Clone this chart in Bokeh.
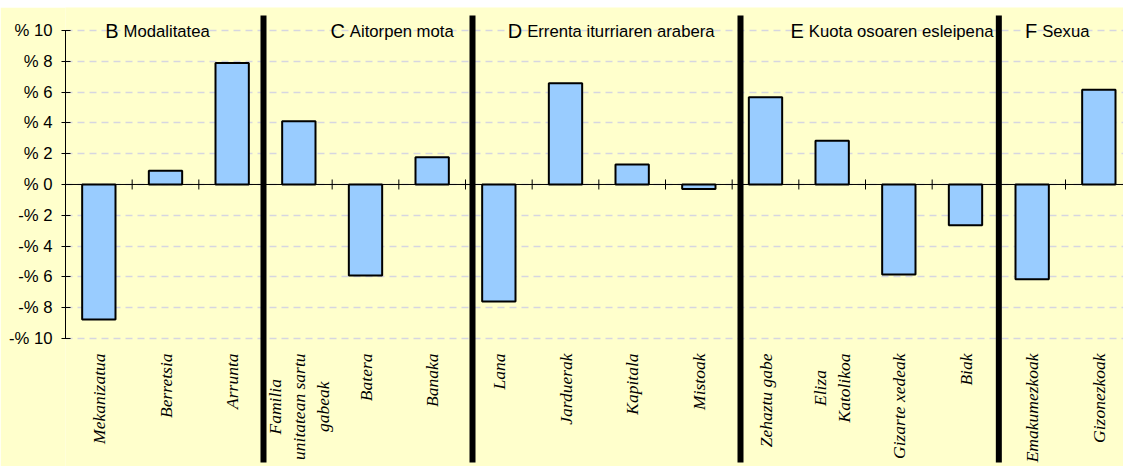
import numpy as np
from bokeh.plotting import figure
from bokeh.layouts import column
from bokeh.models import Range1d, FixedTicker, Span, Spacer
from bokeh.core.properties import value
from bokeh.embed import file_html
from bokeh.resources import INLINE

# ---- data ----
categories = ["Mekanizatua", "Berretsia", "Arrunta",
              "Familia\nunitatean sartu\ngabeak", "Batera", "Banaka",
              "Lana", "Jarduerak", "Kapitala", "Mistoak",
              "Zehaztu gabe", "Eliza\nKatolikoa", "Gizarte xedeak", "Biak",
              "Emakumezkoak", "Gizonezkoak"]
values = [-8.77, 0.89, 7.88,
          4.11, -5.91, 1.77,
          -7.60, 6.58, 1.30, -0.30,
          5.67, 2.84, -5.84, -2.64,
          -6.15, 6.15]
group_letters = ["B", "C", "D", "E", "F"]
group_names = ["Modalitatea", "Aitorpen mota", "Errenta iturriaren arabera",
               "Kuota osoaren esleipena", "Sexua"]
y_ticks = [-10, -8, -6, -4, -2, 0, 2, 4, 6, 8, 10]
y_tick_labels = ["-% 10", "-% 8", "-% 6", "-% 4", "-% 2", "% 0",
                 "% 2", "% 4", "% 6", "% 8", "% 10"]

# ---- layout (positions in category units) ----
header_x = [0.87, 4.265, 6.925, 11.15, 14.65]
separator_x = [2.97, 6.105, 10.125, 14.0]
separator_top = 10.97
separator_bottom = -18.05
LABEL_SIZE = 17.5

# approximate Times-Italic advance widths (1/1000 em) to centre multi-line labels
TIMES_I = dict(zip("abcdefghijklmnopqrstuvwxyz",
                   [500, 500, 444, 500, 444, 278, 500, 500, 278, 278, 444, 278, 722,
                    500, 500, 500, 500, 389, 389, 278, 500, 444, 667, 444, 444, 389]))
TIMES_I.update(dict(zip("ABCDEFGHIJKLMNOPQRSTUVWXYZ",
                        [611, 611, 667, 722, 611, 611, 722, 722, 333, 444, 667, 556, 833,
                         667, 722, 611, 722, 611, 500, 556, 722, 611, 833, 611, 556, 556])))
TIMES_I[" "] = 250


def est_width(s, size):
    return size * sum(TIMES_I.get(c, 500) for c in s) / 1000.0


n = len(categories)
xs = np.arange(n) + 0.5
bounds = np.arange(1, n)

BG = "#FFFFCC"
p = figure(width=1123, height=459,
           x_range=Range1d(0, 15.87), y_range=Range1d(-18.31, 11.49),
           x_axis_location=None,
           output_backend="svg", toolbar_location=None,
           background_fill_color=BG, border_fill_color=BG,
           min_border_left=65, min_border_right=0,
           min_border_top=0, min_border_bottom=0)
p.outline_line_color = None
p.xgrid.visible = False

# y grid
p.ygrid.ticker = FixedTicker(ticks=y_ticks)
p.ygrid.grid_line_color = "#D6D6E0"
p.ygrid.grid_line_dash = "7 5"
p.ygrid.grid_line_width = 1.5

# y axis
ax = p.yaxis[0]
ax.ticker = FixedTicker(ticks=y_ticks)
ax.bounds = (-10, 10)
ax.major_label_overrides = {t: l for t, l in zip(y_ticks, y_tick_labels)}
ax.minor_tick_line_color = None
ax.major_tick_out = 4
ax.major_tick_in = 5
ax.axis_line_color = "black"
ax.major_tick_line_color = "black"
ax.major_label_standoff = 9
ax.major_label_text_font = "Liberation Sans"
ax.major_label_text_font_size = "16.7px"
ax.major_label_text_color = "black"

# bars
p.vbar(x=xs, top=values, bottom=0, width=0.5,
       fill_color="#99CCFF", line_color="black", line_width=2)

# zero line + category ticks
p.add_layout(Span(location=0, dimension="width", line_color="black", line_width=1))
p.scatter(x=bounds, y=np.zeros(len(bounds)), marker="dash", angle=np.pi / 2,
          size=10, line_color="black", line_width=1)

# separators
p.segment(x0=separator_x, x1=separator_x,
          y0=[separator_bottom] * len(separator_x), y1=[separator_top] * len(separator_x),
          line_color="black", line_width=6)

# category labels: single-line ones anchored at their top end
single = [i for i, c in enumerate(categories) if "\n" not in c]
multi = [i for i, c in enumerate(categories) if "\n" in c]
p.text(x=xs[single], y=[-10] * len(single), text=[categories[i] for i in single],
       angle=np.pi / 2, anchor="center_right", y_offset=15,
       text_font=value("Liberation Serif"), text_font_style="italic",
       text_font_size=f"{LABEL_SIZE}px", text_color="black")
# multi-line ones: centred lines, block top aligned with the others
multi_off = [15 + max(est_width(l, LABEL_SIZE) for l in categories[i].split("\n")) / 2
             for i in multi]
p.text(x=xs[multi], y=[-10] * len(multi), text=[categories[i] for i in multi],
       angle=np.pi / 2, text_align="center", text_baseline="middle", y_offset=multi_off,
       text_font=value("Liberation Serif"), text_font_style="italic",
       text_font_size=f"{LABEL_SIZE}px", text_color="black", text_line_height=1.2)

# headers
p.text(x=header_x, y=[10] * len(header_x), text=group_letters,
       text_align="right", text_baseline="middle", x_offset=-5, y_offset=1,
       text_font=value("Liberation Sans"), text_font_size="20px", text_color="black")
p.text(x=header_x, y=[10] * len(header_x), text=group_names,
       text_align="left", text_baseline="middle", y_offset=1,
       text_font=value("Liberation Sans"), text_font_size="16.7px", text_color="black")

layout = column(Spacer(width=1123, height=7), p)
open("out.html", "w").write(file_html(layout, INLINE))
